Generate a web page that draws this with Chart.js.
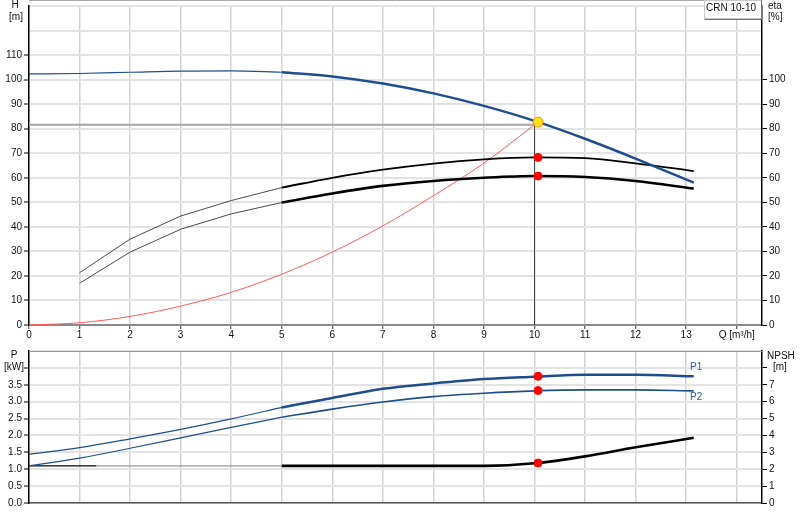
<!DOCTYPE html>
<html><head><meta charset="utf-8">
<script src="https://cdn.jsdelivr.net/npm/chart.js@4.4.1/dist/chart.umd.min.js"></script>
<style>
html,body{margin:0;padding:0;background:#fff;}
#wrap{position:relative;width:800px;height:520px;overflow:hidden;}
#top{position:absolute;left:0;top:0;width:800px;height:345px;}
#bot{position:absolute;left:0;top:345px;width:800px;height:175px;}
</style></head><body>
<div id="wrap"><canvas id="top" width="800" height="345"></canvas><canvas id="bot" width="800" height="175"></canvas></div>
<script>
// ---- data ----
const Q_H = [0,1,2,3,4,5,6,7,8,9,10,11,12,13.15];
const H_VALUES = [102.3,102.5,103.0,103.5,103.6,103.0,101.3,98.4,94.4,89.3,83.2,75.9,67.8,58.0];
const Q_ETA = [1,2,3,4,5,6,7,8,9,10,11,12,13.15];
const ETA_UPPER = [21.3,35.0,44.4,50.7,56.0,60.0,63.3,65.8,67.5,68.3,68.0,65.9,62.7];
const ETA_LOWER = [17.0,29.7,39.0,45.3,49.9,53.6,56.7,58.7,60.0,60.7,60.3,58.7,55.6];
const Q_SYS = [0,1,2,3,4,5,6,7,8,9,10.07];
const H_SYS = [0,0.9,3.5,7.7,13.3,20.7,29.7,40.4,52.7,66.0,82.7];
const Q_POW = [0,1,2,3,4,5,6,7,8,9,10,11,12,13.15];
const P1 = [1.44,1.64,1.90,2.18,2.49,2.83,3.11,3.38,3.54,3.67,3.74,3.80,3.80,3.75];
const P2 = [1.10,1.33,1.62,1.93,2.24,2.54,2.78,2.99,3.15,3.25,3.32,3.35,3.35,3.32];
const NPSH = [2.2,2.2,2.2,2.2,2.2,2.2,2.2,2.2,2.2,2.2,2.35,2.76,3.3,3.86];
const NPSH_DARK_END_Q = 1.33;
const DUTY_Q = 10.07, DUTY_H = 82.7;
const DUTY_ETA = [68.3, 60.7];
const DUTY_P = [3.75, 3.33];
const DUTY_NPSH = 2.37;
const REQ_Q = 10.0, REQ_H = 81.6;
const SPLIT_Q = 5;
const X_TICK_TITLE = 'Q [m³/h]';
const MODEL = 'CRN 10-10';

// ---- helpers ----
const FAM = '"Liberation Sans", Arial, sans-serif';
const FONT = {family: FAM, size: 10};
Chart.defaults.font.family = FAM;
Chart.defaults.font.size = 10;
function pts(xs, ys){ return xs.map((x,i)=>({x:x,y:ys[i]})); }
function part(xs, ys, lo, hi){ return pts(xs,ys).filter(p=>p.x>=lo && p.x<=hi); }
function line(data, color, width, axis, smooth){
  const d = {data:data, showLine:true, borderColor:color, backgroundColor:color, borderWidth:width,
    pointRadius:0, fill:false, tension:0};
  if (smooth) d.cubicInterpolationMode = 'monotone';
  if (axis) d.yAxisID = axis;
  return d;
}
function dot(x, y, r, fill, border, axis){
  const d = {data:[{x:x,y:y}], showLine:false, pointRadius:r, pointBackgroundColor:fill,
    pointBorderColor:border, pointBorderWidth:1, borderColor:border, backgroundColor:fill};
  if (axis) d.yAxisID = axis;
  return d;
}
const BLUE = '#1d4f8c';
const xMax = 14.5;

function textPlugin(items, extra){
  return {id:'txt', afterDraw(chart){
    const c = chart.ctx; c.save();
    if (extra) extra(c, chart);
    items.forEach(t=>{
      c.font = (t.size||10)+'px '+FAM; c.fillStyle = t.color||'#111';
      c.textAlign = t.align||'center'; c.textBaseline='middle';
      c.fillText(t.text, t.x, t.y);
    });
    c.restore();
  }};
}

// ---- top chart ----
const topDatasets = [
  dot(DUTY_Q, DUTY_H, 5, '#ffe21a', '#ff8c00'),
  dot(DUTY_Q, DUTY_ETA[0], 4, '#ff0000', '#ff0000'),
  dot(DUTY_Q, DUTY_ETA[1], 4, '#ff0000', '#ff0000'),
  line(part(Q_H, H_VALUES, SPLIT_Q, 99), BLUE, 2.5, null, true),
  line(part(Q_H, H_VALUES, 0, SPLIT_Q), BLUE, 1.2, null, true),
  line(part(Q_ETA, ETA_UPPER, SPLIT_Q, 99), '#000', 1.8, null, true),
  line(part(Q_ETA, ETA_UPPER, 0, SPLIT_Q), '#4a4a4a', 1),
  line(part(Q_ETA, ETA_LOWER, SPLIT_Q, 99), '#000', 2.6, null, true),
  line(part(Q_ETA, ETA_LOWER, 0, SPLIT_Q), '#4a4a4a', 1),
  line(pts(Q_SYS, H_SYS), '#ff5a5a', 1, null, true),
  line([{x:REQ_Q,y:0},{x:REQ_Q,y:DUTY_H}], '#444', 1),
  line([{x:0,y:REQ_H},{x:REQ_Q,y:REQ_H}], '#a6a6a6', 2)
];
new Chart(document.getElementById('top'), {
  type:'scatter',
  data:{datasets:topDatasets},
  options:{
    responsive:false, animation:false, devicePixelRatio:1,
    layout:{padding:0},
    plugins:{legend:{display:false}, tooltip:{enabled:false}},
    scales:{
      x:{type:'linear', min:0, max:xMax, position:'bottom',
        ticks:{stepSize:1, includeBounds:false, autoSkip:false, maxRotation:0, minRotation:0, padding:0, color:'#111', font:FONT,
          callback:v=> v===14 ? X_TICK_TITLE : (v<=13 ? String(v) : '')},
        grid:{color:'#d2d2d2', lineWidth:1.5, tickLength:4, tickColor:'#333', tickWidth:1},
        border:{color:'#8a8a8a', width:2},
        afterFit(s){ s.height=20; s.paddingLeft=0; s.paddingRight=0; }},
      y:{type:'linear', position:'left', min:0, max:130,
        ticks:{stepSize:10, padding:2, color:'#111', font:FONT, callback:v=> v<=110 ? String(v) : ''},
        grid:{color:'#e3e3e3', lineWidth:2, tickLength:5, tickWidth:1,
          tickColor:ctx=> (ctx.tick && ctx.tick.value<=110) ? '#000' : 'rgba(0,0,0,0)'},
        border:{color:'#000', width:1.5},
        afterFit(s){ s.width=29; s.paddingTop=0; s.paddingBottom=0; }},
      y2:{type:'linear', position:'right', min:0, max:130,
        ticks:{stepSize:10, padding:2, color:'#111', font:FONT, callback:v=> v<=100 ? String(v) : ''},
        grid:{drawOnChartArea:false, tickLength:5, tickWidth:1,
          tickColor:ctx=> (ctx.tick && ctx.tick.value<=100) ? '#000' : 'rgba(0,0,0,0)'},
        border:{color:'#000', width:1.5},
        afterFit(s){ s.width=38; s.paddingTop=0; s.paddingBottom=0; }}
    }
  },
  plugins:[textPlugin([
    {text:'H', x:15, y:5},
    {text:'[m]', x:16, y:17},
    {text:'eta', x:768, y:6, align:'left'},
    {text:'[%]', x:768, y:17, align:'left'},
    {text:MODEL, x:731, y:8}
  ], (c, chart)=>{
    c.strokeStyle='#a8a8a8'; c.lineWidth=1;
    c.beginPath(); c.moveTo(chart.chartArea.left, 0.5); c.lineTo(chart.chartArea.right, 0.5); c.stroke();
    c.fillStyle='#fff'; c.fillRect(704,0,58,19);
    c.strokeStyle='#c8c8c8'; c.strokeRect(704.5,0.5,57,18);
    c.strokeStyle='#707070'; c.beginPath(); c.moveTo(704.5,19.5); c.lineTo(761.5,19.5); c.lineTo(761.5,0); c.stroke();
  })]
});

// ---- bottom chart ----
const botDatasets = [
  dot(DUTY_Q, DUTY_P[0], 4, '#ff0000', '#ff0000'),
  dot(DUTY_Q, DUTY_P[1], 4, '#ff0000', '#ff0000'),
  dot(DUTY_Q, DUTY_NPSH, 4, '#ff0000', '#ff0000', 'y2'),
  line(part(Q_POW, P1, SPLIT_Q, 99), BLUE, 2.5, null, true),
  line(part(Q_POW, P1, 0, SPLIT_Q), BLUE, 1.2, null, true),
  line(part(Q_POW, P2, SPLIT_Q, 99), BLUE, 1.6, null, true),
  line(part(Q_POW, P2, 0, SPLIT_Q), BLUE, 1.2, null, true),
  line(part(Q_POW, NPSH, SPLIT_Q, 99), '#000', 2.6, 'y2', true),
  line([{x:Q_POW[0], y:NPSH[0]}, {x:NPSH_DARK_END_Q, y:NPSH[1]}], '#000', 1, 'y2'),
  line(part(Q_POW, NPSH, 0, SPLIT_Q), '#9a9a9a', 1.4, 'y2')
];
new Chart(document.getElementById('bot'), {
  type:'scatter',
  data:{datasets:botDatasets},
  options:{
    responsive:false, animation:false, devicePixelRatio:1,
    layout:{padding:{top:6, left:0, right:0, bottom:0}},
    plugins:{legend:{display:false}, tooltip:{enabled:false}},
    scales:{
      x:{type:'linear', min:0, max:xMax, position:'bottom',
        ticks:{display:false, stepSize:1, includeBounds:false},
        grid:{color:'#d2d2d2', lineWidth:1.5, drawTicks:false},
        border:{color:'#555', width:1.5},
        afterFit(s){ s.height=17; s.paddingLeft=0; s.paddingRight=0; }},
      y:{type:'linear', position:'left', min:0, max:4.5,
        ticks:{stepSize:0.5, padding:2, color:'#111', font:FONT, callback:v=> v<=3.5 ? v.toFixed(1) : ''},
        grid:{color:'#e3e3e3', lineWidth:2, tickLength:5, tickWidth:1,
          tickColor:ctx=> (ctx.tick && ctx.tick.value<=4) ? '#000' : 'rgba(0,0,0,0)'},
        border:{color:'#000', width:1.5},
        afterFit(s){ s.width=29; s.paddingTop=0; s.paddingBottom=0; }},
      y2:{type:'linear', position:'right', min:0, max:9,
        ticks:{stepSize:1, padding:2, color:'#111', font:FONT, callback:v=> v<=7 ? String(v) : ''},
        grid:{drawOnChartArea:false, tickLength:5, tickWidth:1,
          tickColor:ctx=> (ctx.tick && ctx.tick.value<=8) ? '#000' : 'rgba(0,0,0,0)'},
        border:{color:'#000', width:1.5},
        afterFit(s){ s.width=38; s.paddingTop=0; s.paddingBottom=0; }}
    }
  },
  plugins:[textPlugin([
    {text:'P', x:14, y:10},
    {text:'[kW]', x:14, y:22},
    {text:'NPSH', x:767, y:11, align:'left'},
    {text:'[m]', x:773, y:22, align:'left'},
    {text:'P1', x:690, y:22, align:'left', color:'#2a5d9a'},
    {text:'P2', x:690, y:52, align:'left', color:'#2a5d9a'}
  ], (c, chart)=>{
    c.strokeStyle='#999'; c.lineWidth=1;
    c.beginPath(); c.moveTo(chart.chartArea.left, chart.chartArea.top+0.5); c.lineTo(chart.chartArea.right, chart.chartArea.top+0.5); c.stroke();
  })]
});
</script>
</body></html>
